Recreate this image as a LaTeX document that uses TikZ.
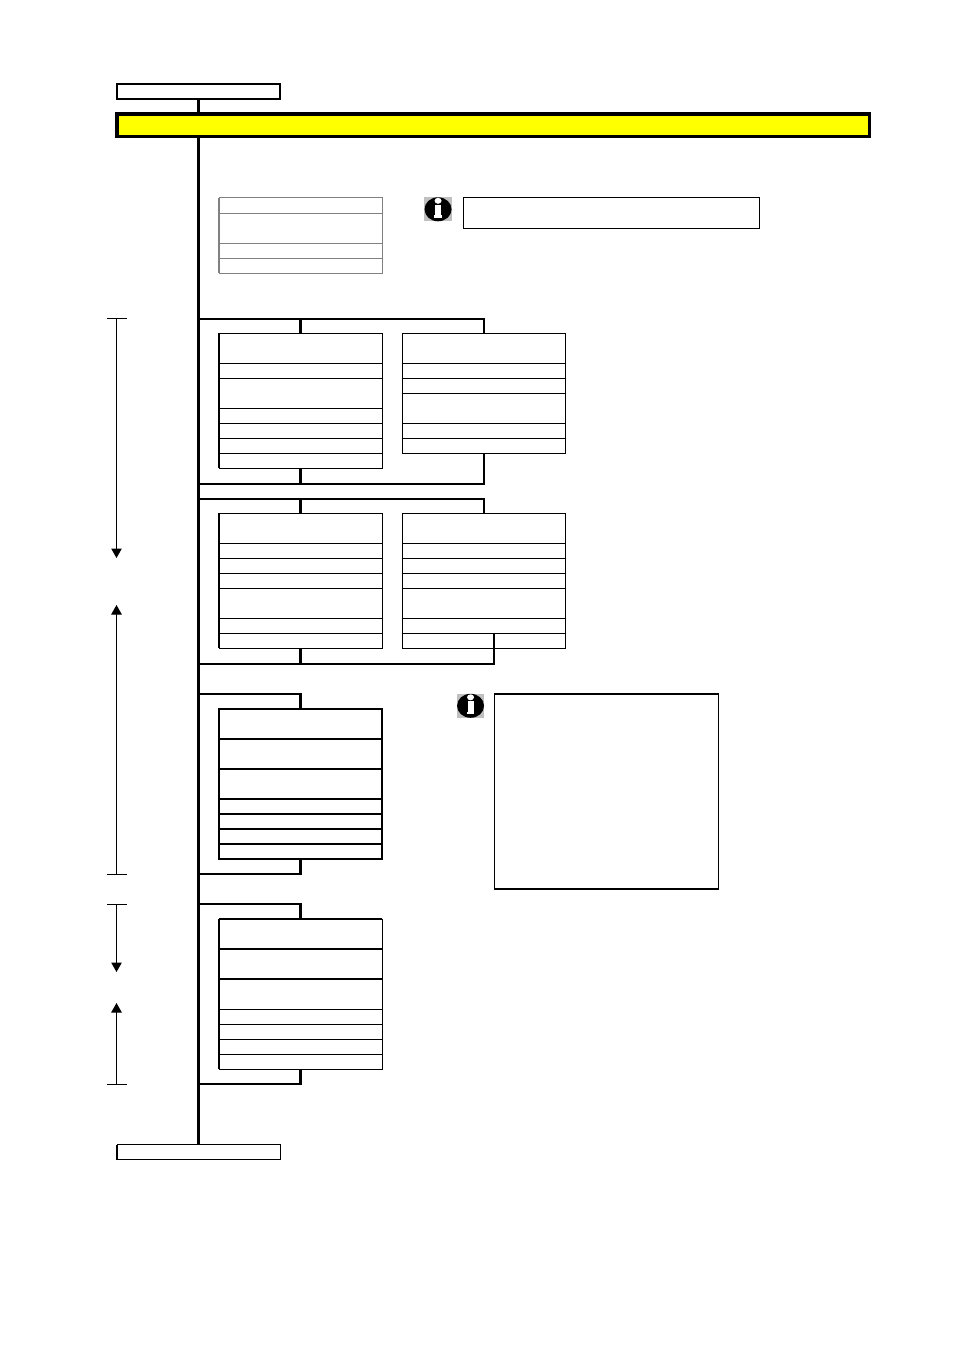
\documentclass[tikz,border=0pt]{standalone}
\usetikzlibrary{calc,arrows.meta}
\tikzset{
  x=1pt,y=-1pt,
  cell/.style={draw=black,line width=#1,fill=white,rectangle,inner sep=0pt,outer sep=0pt,anchor=north west},
  cell/.default=1pt,
  gcell/.style={draw=greyline,line width=1pt,fill=white,rectangle,inner sep=0pt,outer sep=0pt,anchor=north west},
  bus/.style={line width=3pt,line cap=butt},
  hline/.style={line width=2pt},
  drop/.style={line width=3pt},
  edge/.style={line width=2pt},
  dim/.style={line width=1pt,-{Triangle[length=9.5pt,width=10.5pt]}},
  tick/.style={line width=1pt},
}
\definecolor{greyline}{HTML}{808080}
\definecolor{icongrey}{HTML}{C0C0C0}
\definecolor{banner}{HTML}{FFFF00}
% \cellrow{name}{x}{top}{width}{height}{style}
\newcommand{\cellrow}[6]{\node[#6,minimum width=#4pt,minimum height=#5pt] (#1) at (#2,#3) {};}
% \stackrows{prefix}{x}{style}{n/y/h list}
\newcommand{\stackrows}[4]{\foreach \n/\y/\h in {#4}{\cellrow{#1\n}{#2}{\y}{163}{\h}{#3}}}
\newcommand{\infoicon}[3]{%
  \node[fill=icongrey,inner sep=0pt,outer sep=0pt,minimum width=27.5pt,minimum height=24pt,anchor=north west] (#1) at (#2,#3) {};
  \fill[black] (#1.center) ellipse [x radius=13.5pt,y radius=12pt];
  \fill[white] ($(#1.center)+(0,-8.5)$) ellipse [x radius=3.5pt,y radius=3pt];
  \fill[white] ($(#1.center)+(-3,-4.5)$) rectangle ($(#1.center)+(3,7)$);
  \fill[white] ($(#1.center)+(-3.8,6)$) rectangle ($(#1.center)+(3.8,8.5)$);
}
\begin{document}
\begin{tikzpicture}
\useasboundingbox (0,0) rectangle (954,1351);
% top, banner, bottom
\node[cell=1.5pt,minimum width=163pt,minimum height=15pt] (start) at (117,84) {};
\node[cell=1pt,minimum width=163pt,minimum height=15pt] (finish) at (117,1144.5) {};
\draw[edge] (finish.north west) -- (finish.south west);
\node[draw=black,line width=3.2pt,fill=banner,inner sep=0pt,outer sep=0pt,anchor=north west,minimum width=752.5pt,minimum height=22.5pt] (head) at (117,114) {};
\draw[bus] (start.south) -- (head.north-|start.south);
% bus junctions
\foreach \n/\y in {a/319,b/484,c/499,d/664,e/694,f/874,g/904,h/1084}{\coordinate (j\n) at (198,\y);}
% grey stack
\stackrows{G}{219}{gcell}{1/198/15,2/213/30,3/243/15,4/258/15}
\draw[greyline,line width=1.6pt] (G1.north west) -- (G4.south west);
% info 1
\infoicon{infoA}{424.3}{197.3}
\node[cell=1pt,minimum width=296pt,minimum height=31pt] (noteA) at (463.5,197.5) {};
% stacks
\stackrows{A}{219}{cell}{1/333/30,2/363/15,3/378/30,4/408/15,5/423/15,6/438/15,7/453/15}
\stackrows{B}{402.5}{cell}{1/333/30,2/363/15,3/378/15,4/393/30,5/423/15,6/438/15}
\stackrows{C}{219}{cell}{1/513/30,2/543/15,3/558/15,4/573/15,5/588/30,6/618/15,7/633/15}
\stackrows{D}{402.5}{cell}{1/513/30,2/543/15,3/558/15,4/573/15,5/588/30,6/618/15,7/633/15}
\stackrows{E}{219}{cell=1.5pt}{1/709/30,2/739/30,3/769/30,4/799/15,5/814/15,6/829/15,7/844/15}
\stackrows{F}{219}{cell}{1/919/30,2/949/30,3/979/30,4/1009/15,5/1024/15,6/1039/15,7/1054/15}
\foreach \s/\m in {A/7,C/7,E/7,F/7}{\draw[edge] (\s1.north west) -- (\s\m.south west);}
\foreach \s in {E,F}{\draw[edge] (\s1.north west) -- (\s1.north east);
  \draw[edge] (\s1.south west) -- (\s1.south east);
  \draw[edge] (\s2.south west) -- (\s2.south east);}
\draw[edge] (E3.south west) -- (E3.south east);
% brackets
\draw[hline] (ja) -| (B1.north);
\draw[drop] (ja-|A1.north) -- (A1.north);
\draw[hline] (jb) -| (B6.south);
\draw[drop] (A7.south) -- (jb-|A7.south);
\draw[hline] (jc) -| (D1.north);
\draw[drop] (jc-|C1.north) -- (C1.north);
\coordinate (dexit) at (494,633);
\draw[hline] (jd) -| (dexit);
\draw[drop] (C7.south) -- (jd-|C7.south);
\draw[hline] (je) -- (je-|E1.north);
\draw[drop] (je-|E1.north) ++(0,-1) -- (E1.north);
\draw[hline] (jf) -- (jf-|E7.south);
\draw[drop] (E7.south) -- ($(jf-|E7.south)+(0,1)$);
\draw[hline] (jg) -- (jg-|F1.north);
\draw[drop] (jg-|F1.north) ++(0,-1) -- (F1.north);
\draw[hline] (jh) -- (jh-|F7.south);
\draw[drop] (F7.south) -- ($(jh-|F7.south)+(0,1)$);
% bus above junctions
\draw[bus] (head.south-|start.south) -- (finish.north);
% info 2
\infoicon{infoB}{456.8}{693.8}
\node[cell=1.5pt,minimum width=224pt,minimum height=195pt] (noteB) at (494.5,694) {};
% dimension arrows
\coordinate (t1) at (116.5,318.5); \coordinate (a1) at (116.5,558);
\coordinate (t2) at (116.5,874); \coordinate (a2) at (116.5,605);
\coordinate (t3) at (116.5,904); \coordinate (a3) at (116.5,972);
\coordinate (t4) at (116.5,1084); \coordinate (a4) at (116.5,1003);
\foreach \i in {1,...,4}{
  \draw[dim] (t\i) -- (a\i);
  \draw[tick] ($(t\i)+(-9.5,0)$) -- ($(t\i)+(10.5,0)$);
}
\end{tikzpicture}
\end{document}
